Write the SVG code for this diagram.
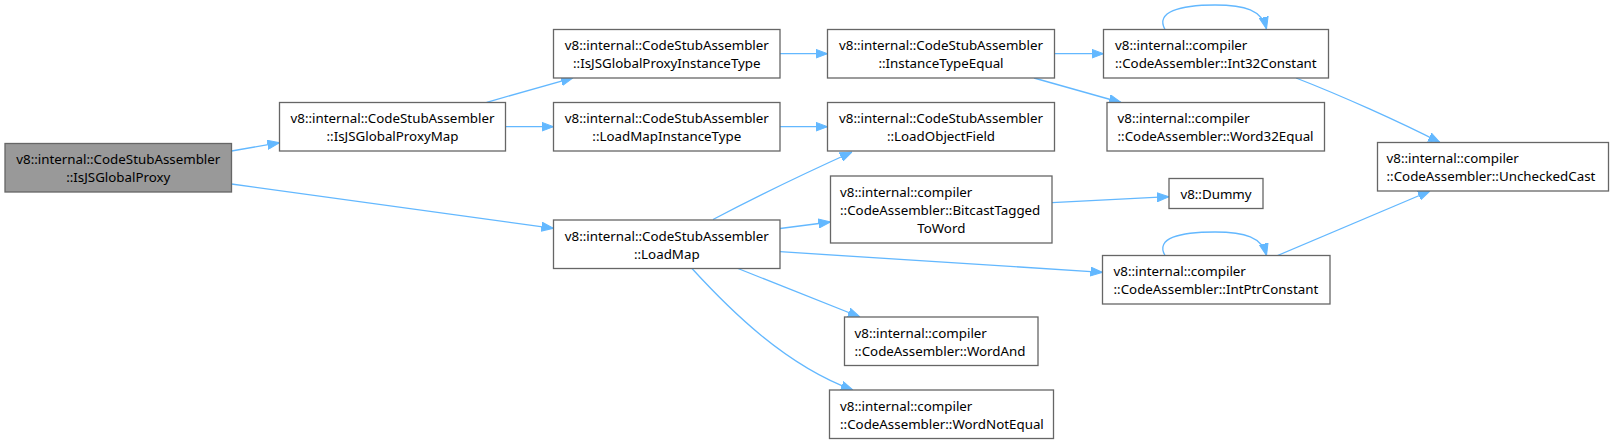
<svg xmlns="http://www.w3.org/2000/svg" width="1614" height="445" viewBox="0 0 1614 445">
<defs>
<style>
.node rect{fill:#ffffff;stroke:#666666;stroke-width:1.3}
.node.root rect{fill:#999999}
text{font-family:"Noto Sans","DejaVu Sans",sans-serif;font-size:13.33px;fill:#000000}
.c{text-anchor:middle}
.l{text-anchor:start}
#edges path{fill:none;stroke:#63b8ff;stroke-width:1.3;marker-end:url(#arr)}
</style>
<marker id="arr" viewBox="0 0 12 10" refX="12" refY="5" markerWidth="12" markerHeight="10" markerUnits="userSpaceOnUse" orient="auto">
<path d="M0,0.5 L12,5 L0,9.5 z" fill="#63b8ff" stroke="#63b8ff" stroke-width="1"/>
</marker>
</defs>
<rect width="1614" height="445" fill="#ffffff"/>
<g id="edges">
<path d="M231.5,151 L279.5,142.7"/>
<path d="M231.5,184 L553.5,228.3"/>
<path d="M486.7,102.3 L573,77.8"/>
<path d="M505.5,126.7 L553.5,126.7"/>
<path d="M780,53.7 L827.5,53.7"/>
<path d="M780,126.7 L827.5,126.7"/>
<path d="M1054.5,53.7 L1103.5,53.7"/>
<path d="M1034,78 L1121,102.5"/>
<path d="M1165,29.5 C1155,12 1180,5 1215,5 C1245,5 1262,10 1266.5,29"/>
<path d="M1296,78 C1340,95 1400,122 1440,142.5"/>
<path d="M713,219.5 C750,200 790,180 852,152"/>
<path d="M780,228.5 L830.5,222"/>
<path d="M780,251.7 L1102.5,272.3"/>
<path d="M738,268.5 L860,317"/>
<path d="M692,268.5 C730,310 785,365 853,390"/>
<path d="M1052,202.7 L1169,196.7"/>
<path d="M1165,255.5 C1155,238 1180,232 1215,232 C1245,232 1262,237 1266.5,255.5"/>
<path d="M1277.5,255.5 L1430,191"/>
</g>
<g id="n_IsJSGlobalProxy" class="node root">
<rect x="5" y="143.5" width="226.5" height="48.5"/>
<text class="c" x="118.3" y="164">v8::internal::CodeStubAssembler</text>
<text class="c" x="118.3" y="182.2">::IsJSGlobalProxy</text>
</g>
<g id="n_IsJSGlobalProxyMap" class="node">
<rect x="279.5" y="102.5" width="226" height="48.5"/>
<text class="c" x="392.5" y="123">v8::internal::CodeStubAssembler</text>
<text class="c" x="392.5" y="141.2">::IsJSGlobalProxyMap</text>
</g>
<g id="n_IsJSGlobalProxyInstanceType" class="node">
<rect x="553.5" y="29.5" width="226.5" height="48.5"/>
<text class="c" x="666.8" y="50">v8::internal::CodeStubAssembler</text>
<text class="c" x="666.8" y="68.2">::IsJSGlobalProxyInstanceType</text>
</g>
<g id="n_LoadMapInstanceType" class="node">
<rect x="553.5" y="102.5" width="226.5" height="48.5"/>
<text class="c" x="666.8" y="123">v8::internal::CodeStubAssembler</text>
<text class="c" x="666.8" y="141.2">::LoadMapInstanceType</text>
</g>
<g id="n_LoadMap" class="node">
<rect x="553.5" y="220" width="226.5" height="48.5"/>
<text class="c" x="666.8" y="240.5">v8::internal::CodeStubAssembler</text>
<text class="c" x="666.8" y="258.7">::LoadMap</text>
</g>
<g id="n_InstanceTypeEqual" class="node">
<rect x="827.5" y="29.5" width="227" height="48.5"/>
<text class="c" x="941" y="50">v8::internal::CodeStubAssembler</text>
<text class="c" x="941" y="68.2">::InstanceTypeEqual</text>
</g>
<g id="n_LoadObjectField" class="node">
<rect x="827.5" y="102.5" width="227" height="48.5"/>
<text class="c" x="941" y="123">v8::internal::CodeStubAssembler</text>
<text class="c" x="941" y="141.2">::LoadObjectField</text>
</g>
<g id="n_BitcastTaggedToWord" class="node">
<rect x="830.5" y="176" width="221.5" height="67"/>
<text class="l" x="840" y="196.5">v8::internal::compiler</text>
<text class="l" x="840" y="214.7">::CodeAssembler::BitcastTagged</text>
<text class="c" x="941.3" y="232.9">ToWord</text>
</g>
<g id="n_WordAnd" class="node">
<rect x="844.5" y="317" width="193.5" height="48.5"/>
<text class="l" x="854.5" y="337.5">v8::internal::compiler</text>
<text class="l" x="854.5" y="355.7">::CodeAssembler::WordAnd</text>
</g>
<g id="n_WordNotEqual" class="node">
<rect x="829.5" y="390" width="224" height="48.5"/>
<text class="l" x="840" y="410.5">v8::internal::compiler</text>
<text class="l" x="840" y="428.7">::CodeAssembler::WordNotEqual</text>
</g>
<g id="n_Int32Constant" class="node">
<rect x="1103.5" y="29.5" width="225" height="48.5"/>
<text class="l" x="1115" y="50">v8::internal::compiler</text>
<text class="l" x="1115" y="68.2">::CodeAssembler::Int32Constant</text>
</g>
<g id="n_Word32Equal" class="node">
<rect x="1107" y="102.5" width="217.5" height="48.5"/>
<text class="l" x="1117.5" y="123">v8::internal::compiler</text>
<text class="l" x="1117.5" y="141.2">::CodeAssembler::Word32Equal</text>
</g>
<g id="n_UncheckedCast" class="node">
<rect x="1377.5" y="142.5" width="231" height="48.5"/>
<text class="l" x="1386.5" y="163">v8::internal::compiler</text>
<text class="l" x="1386.5" y="181.2">::CodeAssembler::UncheckedCast</text>
</g>
<g id="n_Dummy" class="node">
<rect x="1169" y="178.5" width="94" height="30"/>
<text class="c" x="1216" y="198.5">v8::Dummy</text>
</g>
<g id="n_IntPtrConstant" class="node">
<rect x="1102.5" y="255.5" width="227.5" height="48.5"/>
<text class="l" x="1113.5" y="276">v8::internal::compiler</text>
<text class="l" x="1113.5" y="294.2">::CodeAssembler::IntPtrConstant</text>
</g>
</svg>
